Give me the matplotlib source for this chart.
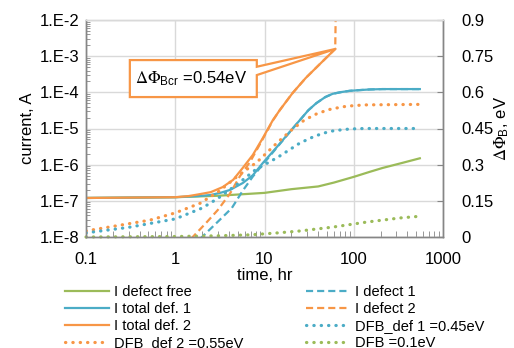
import numpy as np
import matplotlib
matplotlib.use('Agg')
import matplotlib.pyplot as plt
from matplotlib.patches import Polygon
from matplotlib.ticker import LogLocator, FixedLocator, FuncFormatter, NullFormatter

plt.rcParams['font.family'] = ['Liberation Sans', 'DejaVu Sans']
plt.rcParams['mathtext.fontset'] = 'stix'

# ---- data (time in hr, current in A, barrier in eV) ----
t_free = [0.1, 1, 3, 10, 20, 40, 60, 100, 150, 210, 350, 550]
i_free = [1.2e-7, 1.26e-7, 1.38e-7, 1.66e-7, 2.1e-7, 2.5e-7, 3.2e-7, 4.6e-7,
          6.3e-7, 8.1e-7, 1.12e-6, 1.5e-6]

t_tot1 = [0.1, 1, 1.8, 2.5, 3.3, 4.1, 5.7, 7.4, 9.6, 13.8, 20, 31, 38, 48, 58,
          73, 90, 115, 150, 210, 550]
i_tot1 = [1.2e-7, 1.26e-7, 1.35e-7, 1.45e-7, 1.7e-7, 2.0e-7, 3.1e-7, 5.1e-7,
          1.12e-6, 3.1e-6, 9.1e-6, 3.2e-5, 5.0e-5, 7.4e-5, 9.1e-5, 1.02e-4,
          1.1e-4, 1.15e-4, 1.2e-4, 1.23e-4, 1.23e-4]

t_tot2 = [0.1, 1, 1.4, 1.8, 2.5, 3.4, 4.45, 5.7, 7.4, 9.6, 12.4, 14.8, 20.6,
          29, 41, 57, 62]
i_tot2 = [1.2e-7, 1.26e-7, 1.35e-7, 1.5e-7, 1.74e-7, 2.4e-7, 3.8e-7, 8.1e-7,
          1.86e-6, 5.5e-6, 1.7e-5, 3.2e-5, 9.5e-5, 2.5e-4, 5.8e-4, 1.29e-3, 1.58e-3]

t_def1 = [1.9, 2.8, 4.3, 5.7, 7.4, 9.6, 13.8, 20, 31, 38, 48, 58, 73, 90, 115,
          150, 210, 550]
i_def1 = [8.9e-9, 2.24e-8, 6.3e-8, 1.9e-7, 4.7e-7, 1.02e-6, 3.0e-6, 9.0e-6,
          3.2e-5, 5.0e-5, 7.4e-5, 9.1e-5, 1.02e-4, 1.1e-4, 1.15e-4, 1.2e-4,
          1.23e-4, 1.23e-4]

t_def2 = [1.5, 2.2, 3.0, 4.1, 5.3, 6.9, 9.6, 12.4, 14.8, 20.6, 29, 41, 57, 62, 63.5]
i_def2 = [8.9e-9, 2.4e-8, 5.6e-8, 1.58e-7, 4.8e-7, 1.2e-6, 5.2e-6, 1.66e-5,
          3.2e-5, 9.5e-5, 2.5e-4, 5.8e-4, 1.29e-3, 1.58e-3, 0.1]

t_dfb2 = [0.1, 0.52, 1.0, 1.9, 3.1, 5.3, 8.2, 13.8, 21, 28, 38, 52, 75, 100, 140, 550]
v_dfb2 = [0.025, 0.07, 0.10, 0.14, 0.19, 0.26, 0.31, 0.39, 0.45, 0.485, 0.51,
          0.528, 0.54, 0.545, 0.548, 0.55]

t_dfb1 = [0.1, 0.3, 1.0, 2.0, 3.0, 5.0, 8.0, 14, 25, 35, 45, 60, 90, 130, 550]
v_dfb1 = [0.017, 0.04, 0.075, 0.12, 0.16, 0.22, 0.28, 0.33, 0.39, 0.415, 0.43,
          0.441, 0.448, 0.45, 0.45]

t_dfb0 = [0.1, 1, 3, 7, 14, 25, 58, 140, 330, 550]
v_dfb0 = [0.0, 0.002, 0.005, 0.009, 0.017, 0.025, 0.041, 0.062, 0.079, 0.086]

GREEN = '#9BBB59'
BLUE = '#4BACC6'
ORANGE = '#F79646'
AXC = '#868686'
GRIDC = '#D9D9D9'

fig = plt.figure(figsize=(5.14, 3.48), dpi=100)
ax = fig.add_axes([86 / 514, 1 - 237 / 348, (443 - 86) / 514, (237 - 20) / 348])
ax2 = ax.twinx()

lw = 1.6
dash = (0, (3.2, 1.8))
dot = (0, (0.1, 2.2))

h_free, = ax.plot(t_free, i_free, color=GREEN, lw=lw, label='I defect free')
h_tot1, = ax.plot(t_tot1, i_tot1, color=BLUE, lw=lw, label='I total def. 1')
h_tot2, = ax.plot(t_tot2, i_tot2, color=ORANGE, lw=lw, label='I total def. 2')
h_def1, = ax.plot(t_def1, i_def1, color=BLUE, lw=lw, ls=dash, label='I defect 1')
h_def2, = ax.plot(t_def2, i_def2, color=ORANGE, lw=lw, ls=dash, label='I defect 2')

h_dfb2, = ax2.plot(t_dfb2, v_dfb2, color=ORANGE, lw=2.3, ls=dot,
                   dash_capstyle='round', label='DFB_def 2 =0.55eV')
h_dfb1, = ax2.plot(t_dfb1, v_dfb1, color=BLUE, lw=2.3, ls=dot,
                   dash_capstyle='round', label='DFB_def 1 =0.45eV')
h_dfb0, = ax2.plot(t_dfb0, v_dfb0, color=GREEN, lw=2.3, ls=dot,
                   dash_capstyle='round', label='DFB =0.1eV', clip_on=False)

ax.set_xscale('log')
ax.set_yscale('log')
ax.set_xlim(0.1, 1000)
ax.set_ylim(1e-8, 1e-2)
ax2.set_ylim(0, 0.9)

ax.xaxis.set_major_locator(LogLocator(base=10, numticks=10))
ax.xaxis.set_minor_locator(LogLocator(base=10, subs=np.arange(2, 10), numticks=50))
ax.xaxis.set_major_formatter(FuncFormatter(lambda v, p: '%g' % v))
ax.xaxis.set_minor_formatter(NullFormatter())
ax.yaxis.set_major_locator(LogLocator(base=10, numticks=10))
ax.yaxis.set_minor_locator(LogLocator(base=10, subs=np.arange(2, 10), numticks=50))
ax.yaxis.set_major_formatter(FuncFormatter(lambda v, p: '1.E%d' % round(np.log10(v))))
ax.yaxis.set_minor_formatter(NullFormatter())
ax2.yaxis.set_major_locator(FixedLocator([0, 0.15, 0.3, 0.45, 0.6, 0.75, 0.9]))
ax2.yaxis.set_major_formatter(FuncFormatter(lambda v, p: '%g' % v))

ax.grid(True, which='major', color=GRIDC, lw=1)
ax.set_axisbelow(True)

for a in (ax, ax2):
    for s in a.spines.values():
        s.set_color(AXC)
        s.set_linewidth(1)
    a.spines['top'].set_color(GRIDC)

ax.tick_params(axis='x', which='both', direction='in', colors=AXC, labelcolor='black',
               labelsize=12, pad=10.5)
ax.tick_params(axis='x', which='major', length=0)
ax.tick_params(axis='x', which='minor', length=4)
ax.tick_params(axis='y', which='major', direction='in', length=0, colors=AXC,
               labelcolor='black', labelsize=12, pad=5)
ax.tick_params(axis='y', which='minor', direction='in', length=3, colors=AXC)
ax2.tick_params(axis='y', which='major', direction='in', length=4, colors=AXC,
                labelcolor='black', labelsize=12, pad=13)

ax.set_xlabel('time, hr', fontsize=12, labelpad=1)
ax.set_ylabel('current, A', fontsize=12, labelpad=3)
ax2.set_ylabel(r'$\Delta\Phi_{\mathregular{B}}$, eV', fontsize=12, rotation=90)
ax2.yaxis.set_label_coords(1.14, 0.5)

# callout box pointing at the end of the "I total def. 2" curve
callout = Polygon([(0.31, 7.8e-4), (8.2, 7.8e-4), (8.2, 5.1e-4), (62, 1.58e-3),
                   (8.2, 3.0e-4), (8.2, 7.4e-5), (0.31, 7.4e-5)],
                  closed=True, facecolor='white', edgecolor=ORANGE, lw=1.6, zorder=5)
ax.add_patch(callout)
ax.text(0.355, 2.4e-4, r'$\Delta\Phi_{\mathregular{Bcr}}$ =0.54eV', fontsize=12,
        va='center', ha='left', zorder=6)

handles = [h_free, h_tot1, h_tot2, h_dfb2, h_def1, h_def2, h_dfb1, h_dfb0]
fig.legend(handles=handles, labels=[h.get_label() for h in handles], ncol=2,
           loc='upper left', bbox_to_anchor=(65 / 514, 1 - 285 / 348),
           frameon=False, fontsize=10.5, handlelength=3.0, handletextpad=0.35,
           columnspacing=4.3, labelspacing=0.2, borderpad=0, borderaxespad=0)

fig.savefig('out.png', dpi=100)
